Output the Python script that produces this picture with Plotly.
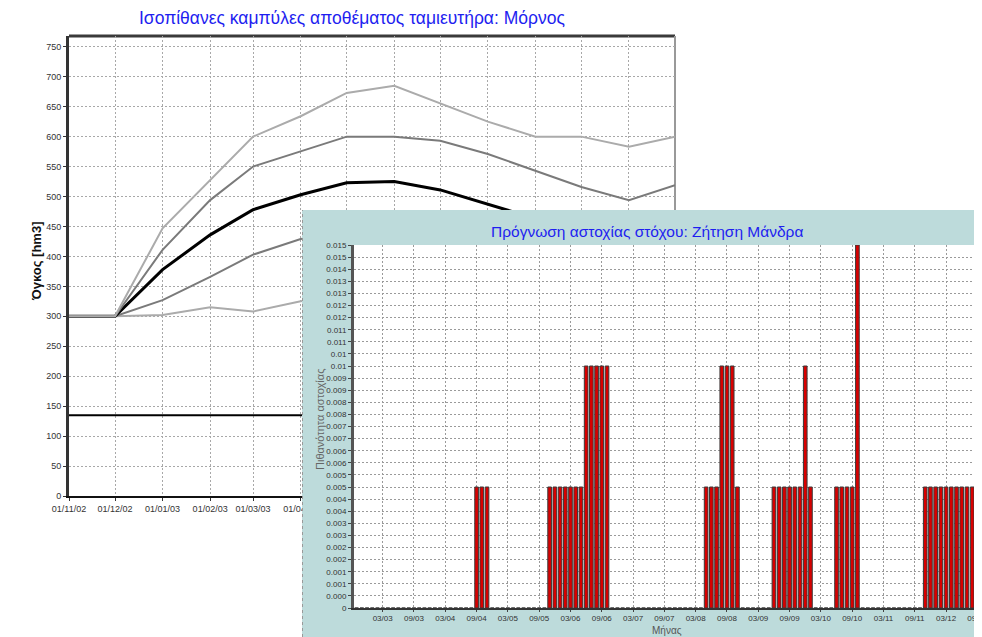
import plotly.graph_objects as go

# The page body adds an 8px margin; the figure is sized and positioned to compensate.
OFF = 8
WF, HF = 982 - OFF, 637 - OFF
FONT = "Arial, Liberation Sans, sans-serif"


def px(X):
    return (X - OFF) / WF


def py(Y):
    return 1 - (Y - OFF) / HF


# ---------------- Top chart: reservoir storage curves ----------------
dates = ["2002-11-01", "2002-12-01", "2003-01-01", "2003-02-01", "2003-03-01",
         "2003-04-01", "2003-05-01", "2003-06-01", "2003-07-01", "2003-08-01",
         "2003-09-01", "2003-10-01", "2003-11-01", "2003-12-01"]
curve_p1 = [300, 300, 447, 528, 600, 634, 673, 685, 656, 625, 600, 600, 583, 600]
curve_p2 = [300, 300, 411, 494, 550, 576, 600, 600, 593, 571, 543, 516, 494, 519]
curve_median = [300, 300, 378, 436, 478, 503, 523, 525, 511, 487, 462, 440, 425, 440]
curve_p4 = [300, 300, 327, 366, 403, 429, 440, 445, 440, 425, 405, 385, 370, 390]
curve_p5 = [300, 300, 302, 315, 308, 325, 335, 345, 340, 330, 315, 300, 290, 305]
dead_storage = [135, 135, 135, 135, 135, 135, 135, 135, 135, 135, 135, 135, 135, 135]

date_tickvals = dates[:-1]
date_ticktext = ["01/11/02", "01/12/02", "01/01/03", "01/02/03", "01/03/03", "01/04/03",
                 "01/05/03", "01/06/03", "01/07/03", "01/08/03", "01/09/03", "01/10/03",
                 "01/11/03"]
vol_ticks = [0, 50, 100, 150, 200, 250, 300, 350, 400, 450, 500, 550, 600, 650, 700, 750]

# ---------------- Inset: failure probability per month ----------------
start_year, start_month, n_months = 2002, 10, 120
months = []
for k in range(n_months):
    m = (start_month - 1 + k) % 12 + 1
    y = start_year + (start_month - 1 + k) // 12
    months.append(f"{m:02d}/{y % 100:02d}")

fail_prob = [
    0, 0, 0, 0, 0, 0, 0, 0, 0, 0, 0, 0,
    0, 0, 0, 0, 0, 0, 0, 0, 0, 0, 0, 0.005,
    0.005, 0.005, 0, 0, 0, 0, 0, 0, 0, 0, 0, 0,
    0, 0.005, 0.005, 0.005, 0.005, 0.005, 0.005, 0.005, 0.01, 0.01, 0.01, 0.01,
    0.01, 0, 0, 0, 0, 0, 0, 0, 0, 0, 0, 0,
    0, 0, 0, 0, 0, 0, 0, 0.005, 0.005, 0.005, 0.01, 0.01,
    0.01, 0.005, 0, 0, 0, 0, 0, 0, 0.005, 0.005, 0.005, 0.005,
    0.005, 0.005, 0.01, 0.005, 0, 0, 0, 0, 0.005, 0.005, 0.005, 0.005,
    0.015, 0, 0, 0, 0, 0, 0, 0, 0, 0, 0, 0,
    0, 0.005, 0.005, 0.005, 0.005, 0.005, 0.005, 0.005, 0.005, 0.005, 0.005, 0.005,
]

month_ticks = ["03/03", "09/03", "03/04", "09/04", "03/05", "09/05", "03/06", "09/06",
               "03/07", "09/07", "03/08", "09/08", "03/09", "09/09", "03/10", "09/10",
               "03/11", "09/11", "03/12", "09/12"]
prob_tickvals = [0, 0.0005, 0.001, 0.0015, 0.002, 0.0025, 0.003, 0.0035, 0.004, 0.0045,
                 0.005, 0.0055, 0.006, 0.0065, 0.007, 0.0075, 0.008, 0.0085, 0.009, 0.0095,
                 0.01, 0.0105, 0.011, 0.0115, 0.012, 0.0125, 0.013, 0.0135, 0.014, 0.0145,
                 0.015]
prob_ticktext = ["0", "0.000", "0.001", "0.001", "0.002", "0.002", "0.003", "0.003",
                 "0.004", "0.004", "0.005", "0.005", "0.006", "0.006", "0.007", "0.007",
                 "0.008", "0.008", "0.009", "0.009", "0.01", "0.01", "0.011", "0.011",
                 "0.012", "0.012", "0.013", "0.013", "0.014", "0.015", "0.015"]

LIGHT = "#ABABAB"
MID = "#7A7A7A"
TEAL = "#BDDBDB"
BLUE = "#1E1EF0"

fig = go.Figure()

# top chart traces (subplot xy)
for vals, col, w in [(curve_p5, LIGHT, 2), (curve_p4, MID, 2), (curve_median, "#000000", 3),
                     (curve_p2, MID, 2), (curve_p1, LIGHT, 2)]:
    fig.add_trace(go.Scatter(x=dates, y=vals, mode="lines", line=dict(color=col, width=w),
                             xaxis="x", yaxis="y", showlegend=False, hoverinfo="skip"))
fig.add_trace(go.Scatter(x=dates, y=dead_storage, mode="lines",
                         line=dict(color="#000000", width=2),
                         xaxis="x", yaxis="y", showlegend=False, hoverinfo="skip"))

# inset panel background (subplot x2y2)
fig.add_trace(go.Scatter(x=[0, 1, 1, 0, 0], y=[0, 0, 1, 1, 0], mode="lines", fill="toself",
                         fillcolor=TEAL, line=dict(width=0, color=TEAL),
                         xaxis="x2", yaxis="y2", showlegend=False, hoverinfo="skip"))

# inset bars (subplot x3y3)
fig.add_trace(go.Bar(x=months, y=fail_prob, marker=dict(color="#D80000",
                     line=dict(color="#3A3A3A", width=1)),
                     xaxis="x3", yaxis="y3", showlegend=False, hoverinfo="skip"))

grid_top = dict(showgrid=True, gridcolor="#A8A8A8", gridwidth=1, griddash="2px,2px")
grid_in = dict(showgrid=True, gridcolor="#9A9A9A", gridwidth=1, griddash="2px,2px")
tickfont_top = dict(family=FONT, size=9, color="#333333")
tickfont_in = dict(family=FONT, size=8, color="#333333")


def ann(text, X, Y, size, color, angle=0):
    return dict(text=text, x=px(X), y=py(Y), xref="paper", yref="paper",
                xanchor="center", yanchor="middle", showarrow=False, textangle=angle,
                font=dict(family=FONT, size=size, color=color))


fig.update_layout(
    width=WF, height=HF, autosize=False,
    margin=dict(l=0, r=0, t=0, b=0, pad=0, autoexpand=False),
    paper_bgcolor="white", plot_bgcolor="white",
    bargap=0.3,
    showlegend=False,
    font=dict(family=FONT),
    xaxis=dict(domain=[px(69), px(675)], type="date", range=["2002-11-01", "2003-12-01"],
               tickvals=date_tickvals, ticktext=date_ticktext, tickfont=tickfont_top,
               ticks="outside", ticklen=3, tickcolor="#333", showline=True,
               linecolor="#111111", linewidth=2, zeroline=False, anchor="y",
               automargin=False, **grid_top),
    yaxis=dict(domain=[py(496), py(36)], range=[0, 768], tickvals=vol_ticks,
               tickfont=tickfont_top, ticks="outside", ticklen=3, tickcolor="#333",
               showline=True, linecolor="#333333", linewidth=3, zeroline=False,
               anchor="x", automargin=False, **grid_top),
    xaxis2=dict(domain=[px(302), 1], range=[0, 1], visible=False, fixedrange=True,
                anchor="y2", automargin=False),
    yaxis2=dict(domain=[0, py(210)], range=[0, 1], visible=False, fixedrange=True,
                anchor="x2", automargin=False),
    xaxis3=dict(domain=[px(354), px(980)], type="category", tickvals=month_ticks,
                ticktext=month_ticks, tickfont=tickfont_in, ticks="outside", ticklen=2,
                tickcolor="#444", showline=True, linecolor="#333333", linewidth=1.5,
                zeroline=False, anchor="y3", automargin=False, **grid_in),
    yaxis3=dict(domain=[py(608), py(245)], range=[0, 0.015],
                tickvals=prob_tickvals, ticktext=prob_ticktext, tickfont=tickfont_in,
                ticks="outside", ticklen=3, tickcolor="#444", showline=True,
                linecolor="#555555", linewidth=3, zeroline=False, anchor="x3",
                automargin=False, **grid_in),
    annotations=[
        ann("Ισοπίθανες καμπύλες αποθέματος ταμιευτήρα: Μόρνος", 352, 18, 17.5, BLUE),
        ann("<b>Όγκος [hm3]</b>", 37, 262, 13, "#111111", -90),
        ann("Πρόγνωση αστοχίας στόχου: Ζήτηση Μάνδρα", 647, 232, 15.5, BLUE),
        ann("Πιθανότητα αστοχίας", 320, 420, 11, "#666666", -90),
        ann("Μήνας", 667, 630, 10, "#555555"),
    ],
    shapes=[
        # top chart frame: top and right edges (below inset)
        dict(type="line", xref="paper", yref="paper", x0=px(69), x1=px(675),
             y0=py(36), y1=py(36), line=dict(color="#3A3A3A", width=3), layer="below"),
        dict(type="line", xref="paper", yref="paper", x0=px(675), x1=px(675),
             y0=py(496), y1=py(36), line=dict(color="#999999", width=2), layer="below"),
        # inset frame: dotted left edge and right plot edge
        dict(type="line", xref="paper", yref="paper", x0=px(302.5), x1=px(302.5),
             y0=0, y1=py(210), line=dict(color="#999999", width=1, dash="dot"),
             layer="above"),
        dict(type="line", xref="paper", yref="paper", x0=px(980), x1=px(980),
             y0=py(608), y1=py(245), line=dict(color="#777777", width=1.5),
             layer="above"),
    ],
)

fig.write_html("out.html")
